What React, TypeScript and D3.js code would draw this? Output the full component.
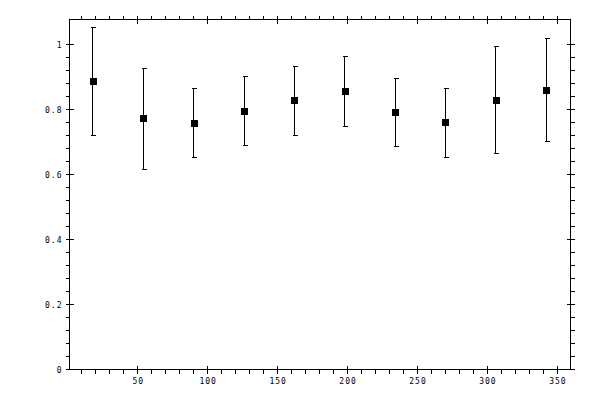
import * as d3 from "d3";

// angle samples and the mean / error bar ends
const angles = [18, 54, 90, 126, 162, 198, 234, 270, 306, 342];
const means = [0.888, 0.774, 0.758, 0.795, 0.829, 0.857, 0.792, 0.762, 0.829, 0.86];
const upper = [1.054, 0.928, 0.866, 0.902, 0.934, 0.965, 0.897, 0.866, 0.995, 1.02];
const lower = [0.722, 0.617, 0.654, 0.691, 0.722, 0.749, 0.688, 0.654, 0.666, 0.703];

const xMajor = [50, 100, 150, 200, 250, 300, 350];
const yMajor = [0, 0.2, 0.4, 0.6, 0.8, 1];
const yLabels = ["0", "0.2", "0.4", "0.6", "0.8", "1"];

const W = 600;
const H = 400;
const left = 69.5;
const right = 570.5;
const top = 19.5;
const bottom = 369.5;

const px = (v: number) => Math.round(v - 0.5) + 0.5;

export default function App() {
  const x = d3.scaleLinear().domain([1.2, 359.4]).range([left, right]);
  const y = d3.scaleLinear().domain([0, 1.078]).range([bottom, top]);

  const xMinor = d3.range(10, 360, 10).filter((v) => !xMajor.includes(v));
  const yMinor = d3
    .range(0, 26)
    .map((i) => +(i * 0.04).toFixed(2))
    .filter((v) => !yMajor.some((m) => Math.abs(m - v) < 1e-6) && v <= 1.078);

  const font = {
    fontFamily: "'DejaVu Sans Mono', monospace",
    fontSize: 8,
    letterSpacing: 1,
  };

  return (
    <svg
      width={W}
      height={H}
      style={{ position: "fixed", left: 0, top: 0, background: "#fff" }}
      shapeRendering="crispEdges"
    >
      <rect x={0} y={0} width={W} height={H} fill="#fff" />
      <g stroke="#000" strokeWidth={1} fill="none">
        <rect x={left} y={top} width={right - left} height={bottom - top} />

        {/* x ticks, bottom and top */}
        {xMajor.map((v) => (
          <g key={"xM" + v}>
            <line x1={px(x(v))} x2={px(x(v))} y1={bottom - 4} y2={bottom + 4} />
            <line x1={px(x(v))} x2={px(x(v))} y1={top - 4} y2={top + 4} />
          </g>
        ))}
        {xMinor.map((v) => (
          <g key={"xm" + v}>
            <line x1={px(x(v))} x2={px(x(v))} y1={bottom} y2={bottom + 4} />
            <line x1={px(x(v))} x2={px(x(v))} y1={top} y2={top - 4} />
          </g>
        ))}

        {/* y ticks, left and right */}
        {yMajor.map((v) => (
          <g key={"yM" + v}>
            <line x1={left - 4} x2={left + 4} y1={px(y(v))} y2={px(y(v))} />
            <line x1={right - 4} x2={right + 4} y1={px(y(v))} y2={px(y(v))} />
          </g>
        ))}
        {yMinor.map((v) => (
          <g key={"ym" + v}>
            <line x1={left - 4} x2={left} y1={px(y(v))} y2={px(y(v))} />
            <line x1={right} x2={right + 4} y1={px(y(v))} y2={px(y(v))} />
          </g>
        ))}

        {/* error bars */}
        {angles.map((a, i) => {
          const cx = px(x(a));
          return (
            <g key={"e" + a}>
              <line x1={cx} x2={cx} y1={px(y(upper[i]))} y2={px(y(lower[i]))} />
              <line x1={cx - 2} x2={cx + 3} y1={px(y(upper[i]))} y2={px(y(upper[i]))} />
              <line x1={cx - 2} x2={cx + 3} y1={px(y(lower[i]))} y2={px(y(lower[i]))} />
            </g>
          );
        })}
      </g>

      {/* markers */}
      {angles.map((a, i) => (
        <rect
          key={"m" + a}
          x={Math.round(x(a)) - 3}
          y={Math.round(y(means[i])) - 3}
          width={7}
          height={7}
          fill="#000"
        />
      ))}

      {/* labels */}
      <g style={font} fill="#000">
        {xMajor.map((v) => (
          <text key={"xl" + v} x={x(v) + 0.5} y={bottom + 14} textAnchor="middle">
            {v}
          </text>
        ))}
        {yMajor.map((v, i) => (
          <text key={"yl" + v} x={left - 7} y={y(v) + 3} textAnchor="end">
            {yLabels[i]}
          </text>
        ))}
      </g>
    </svg>
  );
}
